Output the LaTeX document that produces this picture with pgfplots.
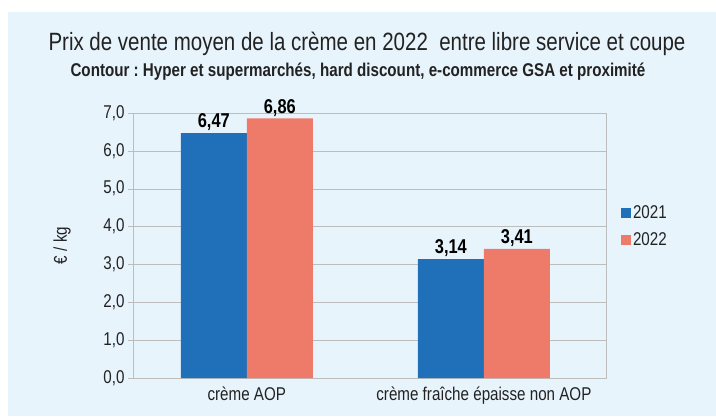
\documentclass[border=0pt]{standalone}
\usepackage{pgfplots}
\pgfplotsset{compat=1.18}
\usepackage{fontspec}
\setmainfont{Liberation Sans}[FakeStretch=0.82]
\frenchspacing
\definecolor{bgblue}{HTML}{E8F4FC}
\definecolor{bblue}{HTML}{1F70B8}
\definecolor{salmon}{HTML}{EE7B6A}
\definecolor{gridgray}{HTML}{BDBDBD}
\definecolor{txt}{HTML}{222222}
\begin{document}
\begin{tikzpicture}[x=1pt,y=1pt]
\fill[white] (0,0) rectangle (716,-416);
\fill[bgblue] (8,-12) rectangle (716,-416);
\node[font=\fontsize{25}{30}\selectfont,text=txt] at (367,-44) {Prix de vente moyen de la crème en 2022\ \ entre libre service et coupe};
\node[font=\fontsize{18.5}{22}\selectfont\bfseries,text=txt] at (358,-72) {Contour : Hyper et supermarchés, hard discount, e-commerce GSA et proximité};
\begin{axis}[
  at={(133pt,-378pt)}, anchor=south west,
  scale only axis, width=473pt, height=265pt,
  ybar=0pt, bar width=66pt,
  xmin=-0.48, xmax=1.515, ymin=0, ymax=7,
  xtick={0,1}, xticklabels={crème AOP, crème fraîche épaisse non AOP},
  ytick={0,1,...,7},
  axis line style={gridgray}, every tick/.style={gridgray},
  ytick pos=left, tick align=outside, major tick length=5pt,
  major x tick style={draw=none},
  ymajorgrids, grid style={gridgray},
  /pgf/number format/assume math mode=true,
  yticklabel style={/pgf/number format/.cd, fixed, fixed zerofill, precision=1, use comma},
  tick label style={font=\fontsize{18.5}{22}\selectfont, text=txt},
  ylabel={€ / kg},
  ylabel style={at={(axis description cs:-0.15,0.5)}, anchor=center, font=\fontsize{18.5}{22}\selectfont, text=txt},
  nodes near coords,
  nodes near coords style={font=\fontsize{20}{24}\selectfont\bfseries, text=black, inner sep=2pt, /pgf/number format/.cd, fixed, fixed zerofill, precision=2, use comma},
  legend style={at={(axis description cs:1.025,0.572)}, anchor=west, draw=none, fill=none,
    font=\fontsize{18.5}{22}\selectfont, text=txt, row sep=9pt},
  legend image code/.code={\draw[#1,draw=none] (0pt,-5pt) rectangle (10pt,5pt);},
]
\addplot[fill=bblue, draw=none] coordinates {(0,6.47) (1,3.14)};
\addplot[fill=salmon, draw=none] coordinates {(0,6.86) (1,3.41)};
\legend{2021,2022}
\end{axis}
\end{tikzpicture}
\end{document}
